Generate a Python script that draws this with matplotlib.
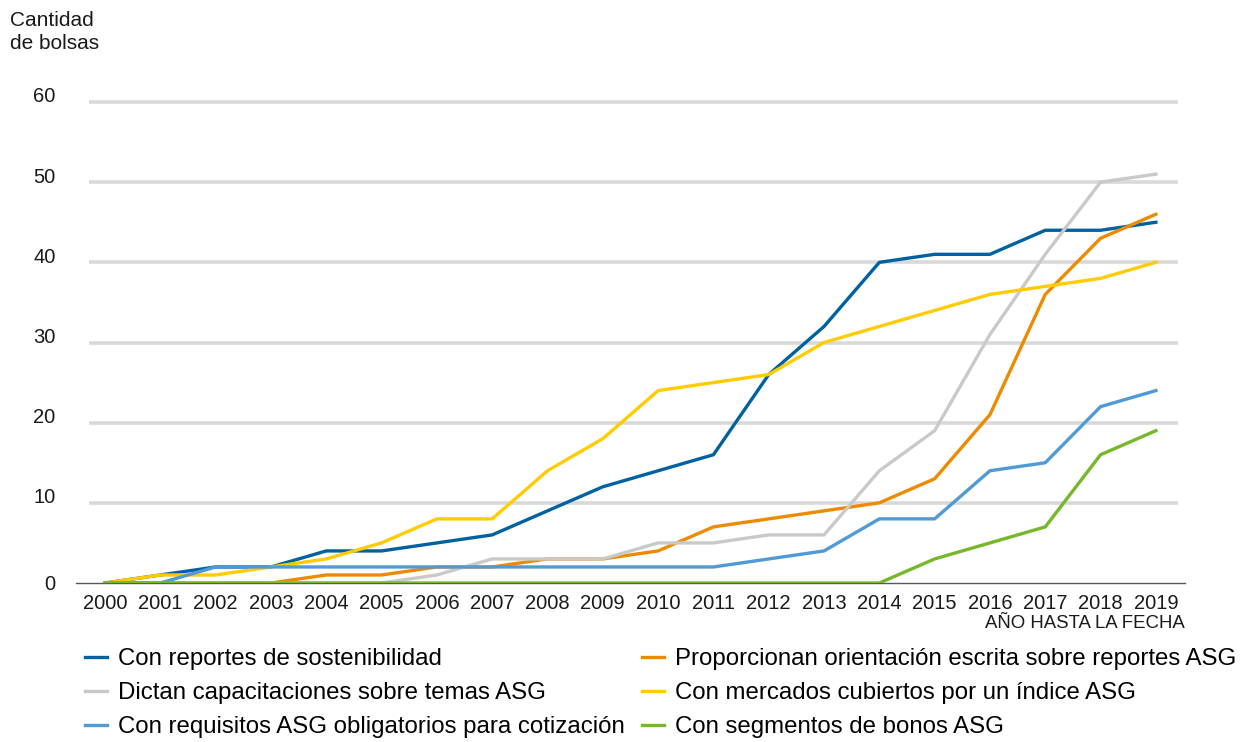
import matplotlib
matplotlib.use("Agg")
import matplotlib.pyplot as plt
from matplotlib.transforms import ScaledTranslation

plt.rcParams['font.family'] = ['Liberation Sans', 'DejaVu Sans']

years = list(range(2000, 2020))
reportes = [0, 1, 2, 2, 4, 4, 5, 6, 9, 12, 14, 16, 26, 32, 40, 41, 41, 44, 44, 45]
orientacion = [0, 0, 0, 0, 1, 1, 2, 2, 3, 3, 4, 7, 8, 9, 10, 13, 21, 36, 43, 46]
capacitaciones = [0, 0, 0, 0, 0, 0, 1, 3, 3, 3, 5, 5, 6, 6, 14, 19, 31, 41, 50, 51]
indice = [0, 1, 1, 2, 3, 5, 8, 8, 14, 18, 24, 25, 26, 30, 32, 34, 36, 37, 38, 40]
requisitos = [0, 0, 2, 2, 2, 2, 2, 2, 2, 2, 2, 2, 3, 4, 8, 8, 14, 15, 22, 24]
bonos = [0, 0, 0, 0, 0, 0, 0, 0, 0, 0, 0, 0, 0, 0, 0, 3, 5, 7, 16, 19]

y_ticks = [0, 10, 20, 30, 40, 50, 60]


def main():
    fig = plt.figure(figsize=(12.52, 7.42), dpi=100)
    ax = fig.add_axes([89 / 1252, 159 / 742, 1089 / 1252, 481 / 742])

    l1, = ax.plot(years, reportes, color="#0061A0", lw=2.4, label="Con reportes de sostenibilidad")
    l2, = ax.plot(years, orientacion, color="#EE8A00", lw=2.4,
                  label="Proporcionan orientación escrita sobre reportes ASG")
    l3, = ax.plot(years, capacitaciones, color="#C9C9C9", lw=2.4,
                  label="Dictan capacitaciones sobre temas ASG")
    l4, = ax.plot(years, indice, color="#FFCC00", lw=2.4,
                  label="Con mercados cubiertos por un índice ASG")
    l5, = ax.plot(years, requisitos, color="#509BD6", lw=2.4,
                  label="Con requisitos ASG obligatorios para cotización")
    l6, = ax.plot(years, bonos, color="#76B82A", lw=2.4, label="Con segmentos de bonos ASG")

    ax.set_xlim(1999.71, 2019.40)
    ax.set_ylim(0, 60)
    ax.set_xticks(years)
    ax.set_yticks(y_ticks)
    ax.tick_params(axis='both', length=0, labelsize=14.5, colors='#1a1a1a')
    ax.tick_params(axis='y', pad=24)
    ax.tick_params(axis='x', pad=8)
    for s in ax.spines.values():
        s.set_visible(False)
    ax.yaxis.grid(True, color="#D9D9D9", linewidth=2.6)
    ax.set_axisbelow(True)
    for gl in ax.get_ygridlines():
        gl.set_clip_on(False)
        gl.set_solid_capstyle('butt')
    ax.get_ygridlines()[0].set_visible(False)

    # tick labels sit a little above their gridlines
    for lab in ax.get_yticklabels()[1:]:
        lab.set_transform(lab.get_transform() + ScaledTranslation(0, 7 / 100, fig.dpi_scale_trans))

    # baseline reaching a bit past the plot area
    ax.plot([-0.012, 1.0065], [0, 0], transform=ax.transAxes, color="#595959",
            lw=1.0, clip_on=False, zorder=1)

    fig.text(10 / 1252, 1 - 11 / 742, "Cantidad\nde bolsas", fontsize=15,
             va='top', ha='left', linespacing=1.25, color='#1a1a1a')
    fig.text(1185 / 1252, 1 - 628 / 742, "AÑO HASTA LA FECHA", fontsize=13.4,
             ha='right', va='baseline', color='#1a1a1a')

    fig.legend(handles=[l1, l3, l5, l2, l4, l6], ncol=2, loc='upper left',
               bbox_to_anchor=(85 / 1252, 1 - 648 / 742), frameon=False,
               fontsize=17.3, handlelength=0.92, handletextpad=0.46,
               columnspacing=0.7, labelspacing=0.5, borderpad=0, borderaxespad=0)

    fig.savefig("out.png", dpi=100)


if __name__ == "__main__":
    main()
